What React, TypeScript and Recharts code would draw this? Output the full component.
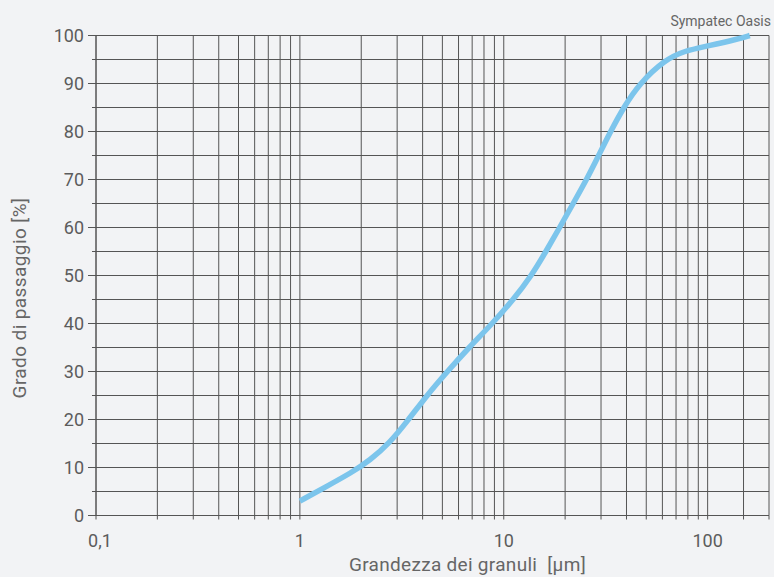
import React from 'react';
import { LineChart, Line, XAxis, YAxis, CartesianGrid } from 'recharts';

// particle size [µm] and cumulative passing [%]
const sizes = [1, 1.33, 1.79, 2.22, 2.74, 3.39, 4.19, 5.29, 6.75, 8.8, 11.15, 13.7, 16.1, 18.8, 21.9, 25.5, 29.2, 33.4, 38.7, 46.3, 62, 77, 100, 142, 161];
const passing = [3, 5.9, 8.9, 11.6, 15, 19.8, 25, 30, 35, 40, 45, 50, 55, 60, 65, 70, 75, 80, 85, 90, 95, 96.8, 97.8, 99.3, 100];

const xTicks = [
  0.1, 0.2, 0.3, 0.4, 0.5, 0.6, 0.7, 0.8, 0.9,
  1, 2, 3, 4, 5, 6, 7, 8, 9,
  10, 20, 30, 40, 50, 60, 70, 80, 90,
  100, 150, 200,
];
const xLabels: Record<number, string> = { 0.1: '0,1', 1: '1', 10: '10', 100: '100' };
const yTicks = [0, 5, 10, 15, 20, 25, 30, 35, 40, 45, 50, 55, 60, 65, 70, 75, 80, 85, 90, 95, 100];

const data = sizes.map((s, i) => ({ size: s, pass: passing[i] }));

const font = 'Roboto, "DejaVu Sans", sans-serif';
const gridColor = '#555';
const textColor = '#5c5c5c';

const XTick = (props: any) => {
  const { x, y, payload } = props;
  const label = xLabels[payload.value];
  return (
    <g>
      <line x1={x} x2={x} y1={y} y2={y + 4} stroke={gridColor} />
      {label && (
        <text x={x + (payload.value === 0.1 ? 4 : 0)} y={y + 31} textAnchor="middle" fill={textColor} fontSize={18} fontFamily={font}>
          {label}
        </text>
      )}
    </g>
  );
};

const YTick = (props: any) => {
  const { x, y, payload } = props;
  const major = payload.value % 10 === 0;
  return (
    <g>
      <line x1={x - (major ? 8 : 4)} x2={x} y1={y} y2={y} stroke={gridColor} />
      {major && (
        <text x={x - 12} y={y} dy="0.36em" textAnchor="end" fill={textColor} fontSize={18} fontFamily={font}>
          {payload.value}
        </text>
      )}
    </g>
  );
};

export default function App() {
  return (
    <div style={{ position: 'absolute', left: 0, top: 0, width: 774, height: 577, background: '#f2f3f5', overflow: 'hidden' }}>
      <LineChart width={774} height={577} data={data} margin={{ top: 35.5, right: 5, bottom: 0, left: 0 }}>
        <CartesianGrid stroke={gridColor} strokeWidth={1} fill="none" />
        <XAxis
          dataKey="size"
          type="number"
          scale="log"
          domain={[0.1, 200]}
          ticks={xTicks}
          interval={0}
          tick={XTick}
          tickSize={0}
          tickMargin={0}
          height={61.5}
          axisLine={{ stroke: gridColor }}
          allowDataOverflow
        />
        <YAxis
          type="number"
          domain={[0, 100]}
          ticks={yTicks}
          interval={0}
          tick={YTick}
          tickSize={0}
          tickMargin={0}
          width={96}
          axisLine={{ stroke: gridColor }}
        />
        {/* B-spline smoothing keeps the cumulative curve free of kinks */}
        <Line dataKey="pass" type="basis" stroke="#7cc5ec" strokeWidth={5.5} dot={false} isAnimationActive={false} />
      </LineChart>
      <svg width={774} height={577} style={{ position: 'absolute', left: 0, top: 0, pointerEvents: 'none' }}>
        <text x={771} y={25.5} textAnchor="end" fill="#666" fontSize={14} fontFamily={font}>
          Sympatec Oasis
        </text>
        <text
          x={467.5}
          y={571}
          textAnchor="middle"
          fill="#666"
          fontSize={19}
          letterSpacing={0.3}
          fontFamily={font}
          style={{ whiteSpace: 'pre' }}
        >
          {'Grandezza dei granuli  [µm]'}
        </text>
        <text
          transform="translate(26 298) rotate(-90)"
          textAnchor="middle"
          fill="#666"
          fontSize={19}
          letterSpacing={0.4}
          fontFamily={font}
        >
          Grado di passaggio [%]
        </text>
      </svg>
    </div>
  );
}
